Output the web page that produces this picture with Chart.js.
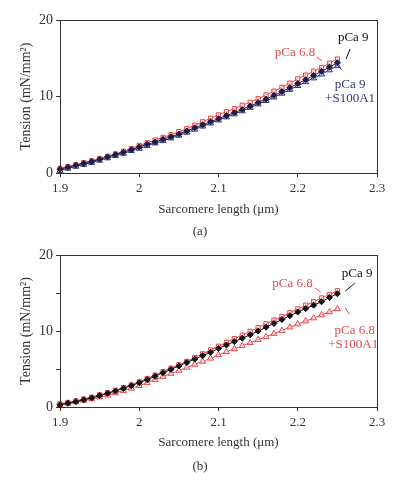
<!DOCTYPE html>
<html>
<head>
<meta charset="utf-8">
<script src="https://cdn.jsdelivr.net/npm/chart.js@4/dist/chart.umd.min.js"></script>
<style>
  html, body { margin: 0; padding: 0; background: #fff; }
  .wrap { position: relative; width: 410px; }
  canvas { display: block; }
</style>
</head>
<body>
<div class="wrap"><canvas id="ca" width="410" height="240"></canvas></div>
<div class="wrap"><canvas id="cb" width="410" height="245"></canvas></div>
<script>
// ---- Data ----
const sarcomereLength = [1.90,1.91,1.92,1.93,1.94,1.95,1.96,1.97,1.98,1.99,2.00,2.01,2.02,2.03,2.04,2.05,2.06,2.07,2.08,2.09,2.10,2.11,2.12,2.13,2.14,2.15,2.16,2.17,2.18,2.19,2.20,2.21,2.22,2.23,2.24,2.25];
const xTicks = [1.9, 2.0, 2.1, 2.2, 2.3];
const yTicks = [0, 10, 20];

// Panel (a)
const a_pCa68 = [0.6,0.85,1.1,1.35,1.6,1.9,2.2,2.5,2.85,3.2,3.6,3.95,4.3,4.65,5.0,5.4,5.8,6.25,6.7,7.15,7.6,8.0,8.4,8.85,9.25,9.7,10.2,10.7,11.2,11.75,12.3,12.8,13.3,13.8,14.35,14.9];
const a_pCa9 = [0.5,0.75,1.0,1.25,1.5,1.8,2.1,2.4,2.7,3.05,3.4,3.75,4.05,4.4,4.75,5.1,5.5,5.9,6.3,6.7,7.1,7.5,7.9,8.3,8.75,9.2,9.65,10.15,10.65,11.15,11.7,12.2,12.75,13.3,13.85,14.4];
const a_pCa9S100 = [0.3,0.6,0.85,1.1,1.35,1.65,1.95,2.25,2.55,2.9,3.2,3.55,3.9,4.2,4.55,4.9,5.3,5.7,6.1,6.5,6.9,7.3,7.7,8.1,8.55,9.0,9.45,9.9,10.4,10.9,11.4,11.9,12.4,12.9,13.45,14.0];

// Panel (b)
const b_pCa68 = [0.4,0.6,0.8,1.05,1.3,1.6,1.9,2.2,2.55,2.9,3.3,3.75,4.2,4.65,5.1,5.55,6.0,6.5,7.0,7.5,8.0,8.5,9.0,9.45,9.95,10.45,10.95,11.45,11.9,12.4,12.9,13.4,13.85,14.35,14.8,15.3];
const b_pCa9 = [0.3,0.5,0.7,0.95,1.2,1.5,1.8,2.1,2.45,2.8,3.2,3.6,4.05,4.5,4.95,5.4,5.85,6.3,6.75,7.2,7.7,8.15,8.6,9.05,9.5,10.0,10.5,11.0,11.5,12.0,12.5,12.95,13.4,13.85,14.4,14.9];
const b_pCa68S100 = [0.3,0.45,0.65,0.85,1.05,1.3,1.55,1.85,2.15,2.45,2.8,3.2,3.6,4.0,4.4,4.8,5.2,5.6,6.0,6.4,6.85,7.25,7.65,8.05,8.45,8.85,9.25,9.65,10.05,10.5,10.9,11.3,11.7,12.1,12.5,12.9];

// ---- Styling ----
const RED = '#e5484f';
const NAVY = '#33357f';
const BLACK = '#111111';
const AXIS = '#333333';
const FONT = '"Liberation Serif", "DejaVu Serif", serif';

function pts(ys) { return sarcomereLength.map((x, i) => ({x: x, y: ys[i]})); }

function ds(label, ys, color, style, fill, radius) {
  return {
    label: label, data: pts(ys), borderColor: color, backgroundColor: fill,
    pointBorderColor: color, pointBackgroundColor: fill, pointStyle: style,
    pointRadius: radius, pointBorderWidth: 1, borderWidth: 1, showLine: true,
    tension: 0, clip: false
  };
}

const decorPlugin = {
  id: 'decor',
  afterDraw(chart, args, opts) {
    const ctx = chart.ctx, ca = chart.chartArea;
    const xs = chart.scales.x, ys = chart.scales.y;
    ctx.save();
    ctx.strokeStyle = AXIS; ctx.lineWidth = 1;
    ctx.strokeRect(Math.round(ca.left) + 0.5, Math.round(ca.top) + 0.5,
                   Math.round(ca.right - ca.left), Math.round(ca.bottom - ca.top));
    (opts.lines || []).forEach(l => {
      ctx.strokeStyle = l.color; ctx.lineWidth = 1;
      ctx.beginPath();
      ctx.moveTo(xs.getPixelForValue(l.x1), ys.getPixelForValue(l.y1));
      ctx.lineTo(xs.getPixelForValue(l.x2), ys.getPixelForValue(l.y2));
      ctx.stroke();
    });
    ctx.font = '13px ' + FONT;
    ctx.textBaseline = 'middle';
    (opts.labels || []).forEach(t => {
      ctx.fillStyle = t.color; ctx.textAlign = t.align || 'center';
      ctx.fillText(t.text, xs.getPixelForValue(t.x), ys.getPixelForValue(t.y));
    });
    if (opts.panel) {
      ctx.fillStyle = AXIS; ctx.textAlign = 'center'; ctx.font = '13px ' + FONT;
      ctx.fillText(opts.panel, opts.panelX, chart.height - opts.panelBottom);
    }
    ctx.restore();
  }
};

function makeChart(id, datasets, cfg) {
  return new Chart(document.getElementById(id), {
    type: 'scatter',
    data: { datasets: datasets },
    plugins: [decorPlugin],
    options: {
      responsive: false, animation: false, devicePixelRatio: 1,
      layout: { padding: { top: cfg.padTop, right: 33, bottom: cfg.padBottom, left: 0 } },
      plugins: {
        legend: { display: false }, tooltip: { enabled: false },
        decor: { lines: cfg.lines, labels: cfg.labels, panel: cfg.panel, panelX: 200, panelBottom: cfg.panelBottom }
      },
      scales: {
        x: {
          type: 'linear', min: xTicks[0], max: xTicks[xTicks.length - 1],
          afterBuildTicks: s => { s.ticks = xTicks.map(v => ({value: v})); },
          afterFit: s => { s.height = cfg.xBox; },
          grid: { drawOnChartArea: false, drawTicks: true, tickLength: 4, color: AXIS },
          border: { display: true, color: AXIS, width: 1 },
          ticks: { color: AXIS, padding: 4, maxRotation: 0, font: { family: FONT, size: 13 },
                   callback: v => String(Number(v.toFixed(2))) },
          title: { display: true, text: 'Sarcomere length (μm)', color: AXIS,
                   font: { family: FONT, size: 13 }, padding: { top: 0, bottom: 0 } }
        },
        y: {
          min: 0, max: 20,
          afterBuildTicks: s => { s.ticks = cfg.yTickVals.map(v => ({value: v})); },
          afterFit: s => { s.width = 60; },
          grid: { drawOnChartArea: false, drawTicks: true, tickLength: 4, color: AXIS },
          border: { display: true, color: AXIS, width: 1 },
          ticks: { color: AXIS, padding: 3, font: { family: FONT, size: 14 },
                   callback: v => (yTicks.includes(v) ? String(v) : '') },
          title: { display: true, text: 'Tension (mN/mm²)', color: AXIS,
                   font: { family: FONT, size: 14 }, padding: { top: 18, bottom: 0 } }
        }
      }
    }
  });
}

makeChart('ca', [
  ds('pCa 9', a_pCa9, '#1c1c44', 'rectRot', '#1c1c44', 3),
  ds('pCa 9 +S100A1', a_pCa9S100, NAVY, 'triangle', 'rgba(200,205,235,0.7)', 3.5),
  ds('pCa 6.8', a_pCa68, RED, 'rect', 'rgba(255,220,220,0.7)', 3)
], {
  padTop: 20, padBottom: 23, xBox: 44, panel: '(a)', panelBottom: 8,
  yTickVals: [0, 10, 20],
  labels: [
    {text: 'pCa 6.8', x: 2.222, y: 15.7, color: RED, align: 'right'},
    {text: 'pCa 9', x: 2.270, y: 17.65, color: BLACK},
    {text: 'pCa 9', x: 2.266, y: 11.5, color: NAVY},
    {text: '+S100A1', x: 2.266, y: 9.67, color: NAVY}
  ],
  lines: [
    {x1: 2.224, y1: 15.16, x2: 2.231, y2: 14.64, color: RED},
    {x1: 2.266, y1: 16.21, x2: 2.261, y2: 14.9, color: BLACK},
    {x1: 2.247, y1: 14.38, x2: 2.256, y2: 13.46, color: NAVY}
  ]
});

makeChart('cb', [
  ds('pCa 9', b_pCa9, BLACK, 'rectRot', BLACK, 3),
  ds('pCa 6.8 +S100A1', b_pCa68S100, RED, 'triangle', 'rgba(255,225,225,0.7)', 3.5),
  ds('pCa 6.8', b_pCa68, RED, 'rect', 'rgba(255,220,220,0.7)', 3)
], {
  padTop: 15, padBottom: 35, xBox: 43, panel: '(b)', panelBottom: 18,
  yTickVals: [0, 5, 10, 15, 20],
  labels: [
    {text: 'pCa 6.8', x: 2.219, y: 16.18, color: RED, align: 'right'},
    {text: 'pCa 9', x: 2.275, y: 17.5, color: BLACK},
    {text: 'pCa 6.8', x: 2.272, y: 10.11, color: RED},
    {text: '+S100A1', x: 2.270, y: 8.27, color: RED}
  ],
  lines: [
    {x1: 2.222, y1: 15.65, x2: 2.229, y2: 15.12, color: RED},
    {x1: 2.272, y1: 16.31, x2: 2.260, y2: 15.25, color: BLACK},
    {x1: 2.260, y1: 13.01, x2: 2.265, y2: 12.22, color: RED}
  ]
});
</script>
</body>
</html>
